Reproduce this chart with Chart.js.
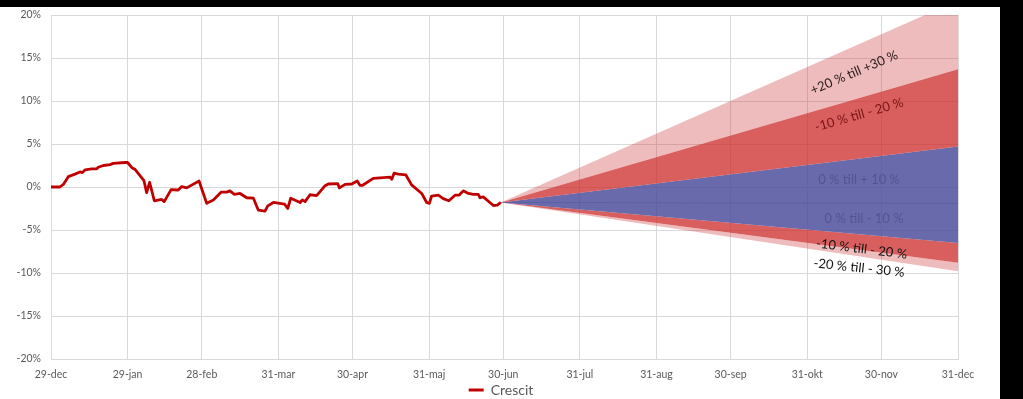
<!DOCTYPE html>
<html>
<head>
<meta charset="utf-8">
<script src="https://cdn.jsdelivr.net/npm/chart.js@4.4.1/dist/chart.umd.min.js"></script>
<style>
  html, body { margin: 0; padding: 0; background: #000; }
  #wrap { position: absolute; left: 0; top: 7px; width: 1000px; height: 392px; background: #fff; }
</style>
</head>
<body>
<div id="wrap"><canvas id="chart" width="1000" height="392"></canvas></div>
<script>
// Dagar räknade från 29-dec (x-axeln är linjär i dagar)
const TICK_DAYS   = [0, 31, 61, 92, 122, 153, 183, 214, 245, 275, 306, 336, 367];
const TICK_LABELS = ['29-dec', '29-jan', '28-feb', '31-mar', '30-apr', '31-maj', '30-jun',
                     '31-jul', '31-aug', '30-sep', '31-okt', '30-nov', '31-dec'];

// Crescit, utveckling i procent
const CRESCIT_DAYS = [0, 3.6, 5, 7, 9.7, 11.7, 12.7, 13.8, 16.5, 18.5, 19.1, 21.2, 23.9, 25.2, 29.9,
                      31, 32.9, 34, 37.6, 38.7, 39.9, 41.8, 44.8, 45.8, 48.6, 51.5, 52.9, 54.9,
                      59.9, 63, 65.7, 68.8, 71.1, 72.4, 74.2, 76.5, 79.2, 81.9, 83.9, 86.6, 87.7,
                      90, 94.5, 95.8, 97, 100.8, 101.7, 102.8, 104.8, 107.5, 110.9, 112.2, 116,
                      116.7, 119, 121.7, 123.9, 125, 126.1, 130.4, 137.2, 137.9, 138.8, 140.5,
                      143.6, 145.9, 150, 152, 153.1, 154, 156.7, 158.7, 161, 163.5, 165.1, 166.8,
                      168.9, 170.9, 172.9, 173.6, 174.9, 179, 180.6, 182];
const CRESCIT_VALUES = [0, 0, 0.3, 1.2, 1.5, 1.75, 1.67, 2.0, 2.1, 2.1, 2.3, 2.5, 2.6, 2.75, 2.85,
                        2.85, 2.2, 2.05, 0.75, -0.65, 0.55, -1.6, -1.45, -1.7, -0.3, -0.35, 0.05,
                        -0.1, 0.7, -1.9, -1.5, -0.6, -0.6, -0.45, -0.85, -0.75, -1.25, -1.3, -2.7,
                        -2.8, -2.2, -1.8, -2.0, -2.5, -1.3, -1.8, -1.5, -1.7, -0.9, -1.0, 0.15,
                        0.35, 0.4, -0.1, 0.3, 0.35, 0.7, 0.2, 0.2, 1.0, 1.15, 0.9, 1.6, 1.5, 1.4,
                        0.25, -0.75, -1.8, -1.9, -1.05, -0.95, -1.35, -1.6, -0.95, -0.95, -0.45,
                        -0.75, -0.85, -0.85, -1.25, -1.15, -2.15, -2.1, -1.8];

// Solfjäder: start- och slutdag, startvärde, slutvärden för varje kant
const FAN_DAYS  = [182, 367];
const FAN_START = -1.8;
const FAN_TOP30 = 21.7;
const FAN_TOP20 = 13.7;
const FAN_TOP10 = 4.7;
const FAN_MID   = -1.9;
const FAN_BOT10 = -6.5;
const FAN_BOT20 = -8.8;
const FAN_BOT30 = -9.8;

// Texter i solfjädern (dag, värde, vinkel i grader)
const FAN_TEXTS = [
  { text: '+20 % till +30 %',  day: 325, value: 13.3, angle: -23, color: '#2a1a1a' },
  { text: '-10 % till - 20 %', day: 327, value: 8.4,  angle: -16, color: '#7a1414' },
  { text: '0 % till + 10 %',   day: 327, value: 0.8,  angle: 0,   color: '#525690' },
  { text: '0 % till - 10 %',   day: 329, value: -3.7, angle: 0,   color: '#525690' },
  { text: '-10 % till - 20 %', day: 328, value: -7.2, angle: 7,   color: '#111111' },
  { text: '-20 % till - 30 %', day: 327, value: -9.4, angle: 6,   color: '#111111' },
];

const LINE_COLOR = '#c00000';
const LIGHT = 'rgba(205,60,60,0.34)';
const DARK  = 'rgba(205,45,45,0.76)';
const BLUE  = 'rgba(75,78,155,0.84)';
const GRID  = '#d9d9d9';
const FONT  = 'Lato, "Open Sans", sans-serif';

const pts = (days, vals) => days.map((d, i) => ({ x: d, y: vals[i] }));
const edge = (end, color, fill) => ({
  data: pts(FAN_DAYS, [FAN_START, end]),
  borderWidth: 0, pointRadius: 0, backgroundColor: color, fill,
});

const fanTextPlugin = {
  id: 'fanText',
  afterDatasetsDraw(chart) {
    const { ctx, scales: { x, y } } = chart;
    ctx.save();
    ctx.font = '13px ' + FONT;
    ctx.textAlign = 'center';
    ctx.textBaseline = 'middle';
    FAN_TEXTS.forEach((t) => {
      ctx.save();
      ctx.translate(x.getPixelForValue(t.day), y.getPixelForValue(t.value));
      ctx.rotate(t.angle * Math.PI / 180);
      ctx.fillStyle = t.color;
      ctx.fillText(t.text, 0, 0);
      ctx.restore();
    });
    ctx.restore();
  },
};

// Förklaringen ligger centrerad under diagramytan, inte under hela bilden
const legendShiftPlugin = {
  id: 'legendShift',
  afterLayout(chart) {
    const lg = chart.legend;
    if (!lg) return;
    lg.left += 22;
    lg.right += 22;
  },
};

new Chart(document.getElementById('chart'), {
  type: 'line',
  data: {
    datasets: [
      {
        label: 'Crescit',
        data: pts(CRESCIT_DAYS, CRESCIT_VALUES),
        borderColor: LINE_COLOR,
        backgroundColor: LINE_COLOR,
        borderWidth: 2.8,
        borderJoinStyle: 'round',
        pointRadius: 0,
        tension: 0,
        fill: false,
      },
      edge(FAN_TOP30, LIGHT, '+1'),
      edge(FAN_TOP20, DARK, '+1'),
      edge(FAN_TOP10, BLUE, 5),
      { data: pts(FAN_DAYS, [FAN_START, FAN_MID]), borderColor: 'rgba(60,60,120,0.35)',
        borderWidth: 1, pointRadius: 0, fill: false },
      edge(FAN_BOT10, DARK, '+1'),
      edge(FAN_BOT20, LIGHT, '+1'),
      edge(FAN_BOT30, LIGHT, false),
    ],
  },
  options: {
    responsive: false,
    animation: false,
    devicePixelRatio: 1,
    layout: { padding: { left: 0, right: 42, top: 0, bottom: 0 } },
    plugins: {
      tooltip: { enabled: false },
      legend: {
        position: 'bottom',
        maxHeight: 18,
        labels: {
          color: '#595959',
          font: { family: FONT, size: 14 },
          boxWidth: 15,
          boxHeight: 3,
          padding: 2,
          generateLabels: (chart) => {
            const items = Chart.defaults.plugins.legend.labels.generateLabels(chart)
              .filter((i) => i.datasetIndex === 0);
            items.forEach((i) => { i.lineWidth = 0; i.fillStyle = LINE_COLOR; });
            return items;
          },
        },
      },
    },
    scales: {
      x: {
        type: 'linear',
        min: 0,
        max: 367,
        afterBuildTicks: (s) => { s.ticks = TICK_DAYS.map((v) => ({ value: v })); },
        afterFit: (s) => { s.height = 22; },
        ticks: {
          color: '#595959',
          font: { family: FONT, size: 10.5 },
          padding: 9,
          maxRotation: 0,
          autoSkip: false,
          callback: (v, i) => TICK_LABELS[i],
        },
        grid: { color: GRID, drawTicks: false },
        border: { color: GRID },
      },
      y: {
        min: -20,
        max: 20,
        afterFit: (s) => { s.width = 51; s.paddingTop = 8; s.paddingBottom = 7; },
        ticks: {
          stepSize: 5,
          color: '#595959',
          font: { family: FONT, size: 10.5 },
          padding: 10,
          callback: (v) => v + '%',
        },
        grid: { color: GRID, drawTicks: false },
        border: { color: GRID },
      },
    },
  },
  plugins: [fanTextPlugin, legendShiftPlugin],
});
</script>
</body>
</html>
